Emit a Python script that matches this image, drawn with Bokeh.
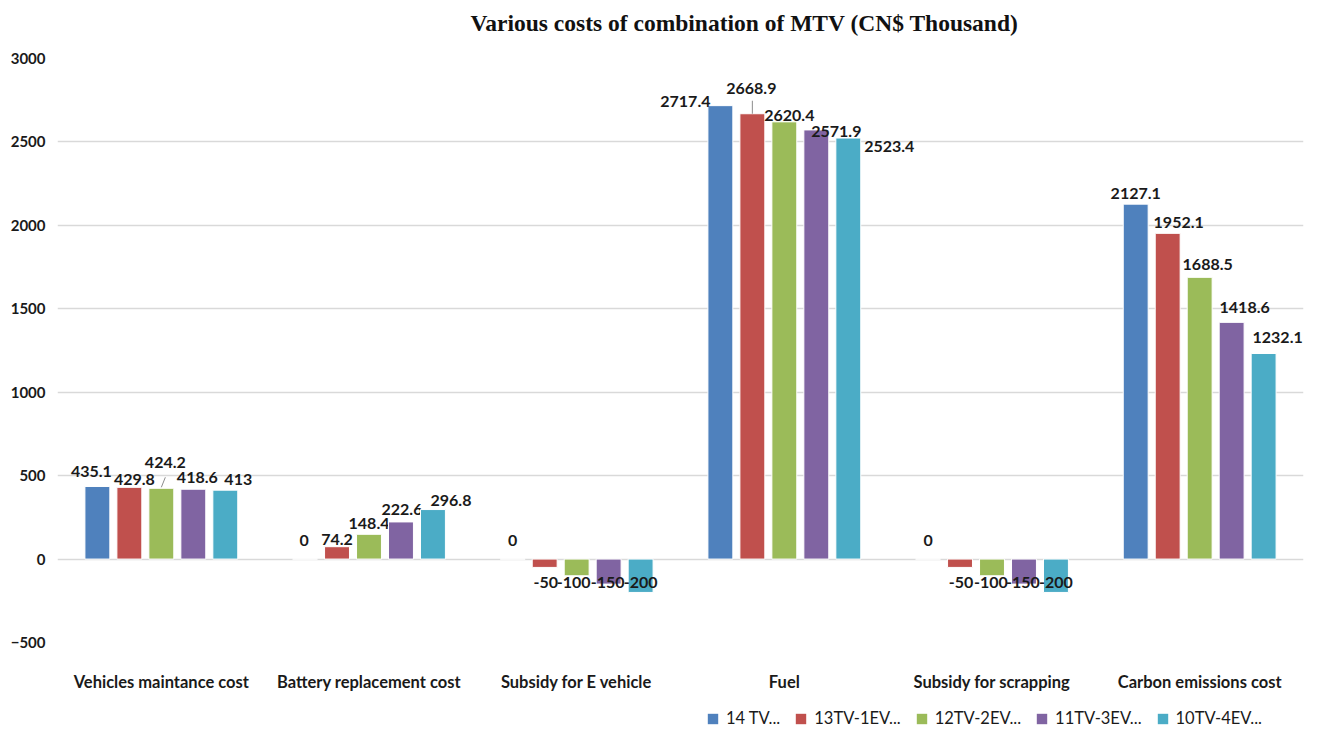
from bokeh.plotting import figure
from bokeh.layouts import column
from bokeh.models import (ColumnDataSource, FactorRange, Range1d, Legend, LegendItem,
                          FixedTicker, Label)
from bokeh.transform import dodge
from bokeh.core.properties import value
from bokeh.embed import file_html
from bokeh.resources import INLINE

categories = ["Vehicles maintance cost", "Battery replacement cost", "Subsidy for E vehicle",
              "Fuel", "Subsidy for scrapping", "Carbon emissions cost"]
series_names = ["14 TV...", "13TV-1EV...", "12TV-2EV...", "11TV-3EV...", "10TV-4EV..."]
s14tv = [435.1, 0, 0, 2717.4, 0, 2127.1]
s13tv1ev = [429.8, 74.2, -50, 2668.9, -50, 1952.1]
s12tv2ev = [424.2, 148.4, -100, 2620.4, -100, 1688.5]
s11tv3ev = [418.6, 222.6, -150, 2571.9, -150, 1418.6]
s10tv4ev = [413, 296.8, -200, 2523.4, -200, 1232.1]
series_values = [s14tv, s13tv1ev, s12tv2ev, s11tv3ev, s10tv4ev]
y_ticks = [-500, 0, 500, 1000, 1500, 2000, 2500, 3000]
title_text = "Various costs of combination of MTV (CN$ Thousand)"

colors = ["#4F81BD", "#C0504D", "#9BBB59", "#8064A2", "#4BACC6"]

# label pixel nudges (Excel-like manual placement), per series then per category
label_dx = [[-6, -1, 0, -35, 0, 0], [5, 0, 1, -1, 1, 11], [4, 0, -3, 5, -1, 8],
            [4, 1, -1, 20, -1, 13], [13, 18, 0, 41, 0, 14]]
label_dy = [[-15, -19, -19, -4, -19, -11], [-8, -7, 23, -25, 23, -11], [-26, -11, 23, -6, 23, -13],
            [-12, -12, 23, 2, 23, -15], [-11, -9, 23, 8, 23, -16]]

W = 1325
BL, BR = 57, 22
FRAME_H = 584
Y0, Y1 = -500, 3000
CAT_PX = (W - BL - BR) / len(categories)

# title strip
pt = figure(width=W, height=48, x_range=Range1d(0, 1), y_range=Range1d(0, 1),
            output_backend="svg", toolbar_location=None, x_axis_type=None, y_axis_type=None,
            min_border_left=BL, min_border_right=BR, min_border_top=0, min_border_bottom=0)
pt.outline_line_color = None
pt.xgrid.grid_line_color = None
pt.ygrid.grid_line_color = None
pt.add_layout(Label(x=413, y=26, x_units="screen", y_units="screen", text=title_text,
                    text_align="left", text_baseline="middle",
                    text_font="Liberation Serif", text_font_size="23.5px",
                    text_font_style="bold", text_color="#111111"))

# main chart
p = figure(x_range=FactorRange(*categories, range_padding=0), y_range=Range1d(Y0, Y1),
           width=W, height=10 + FRAME_H + 64, output_backend="svg", toolbar_location=None,
           min_border_left=BL, min_border_right=BR, min_border_top=10, min_border_bottom=64)
p.outline_line_color = None
p.background_fill_color = "white"
p.border_fill_color = "white"

offsets = [-0.308, -0.154, 0.0, 0.154, 0.308]
for i, (name, vals) in enumerate(zip(series_names, series_values)):
    lab_y = []
    for v in vals:
        lab_y.append(v if v > 0 else 0)
    src = ColumnDataSource(dict(cat=categories, top=vals, laby=lab_y,
                                txt=[("%g" % v) for v in vals],
                                dx=label_dx[i], dy=label_dy[i]))
    p.vbar(x=dodge("cat", offsets[i], range=p.x_range), top="top", bottom=0, width=0.12,
           source=src, fill_color=colors[i], line_color="white", line_width=1)
    p.text(x=dodge("cat", offsets[i], range=p.x_range), y="laby", text="txt", source=src,
           x_offset="dx", y_offset="dy", text_align="center", text_baseline="middle",
           text_font=value("Lato"), text_font_style="bold", text_font_size="16px",
           text_color="#1a1a1a")

# leader lines for the two labels that were lifted away from their bars
px_per_unit = FRAME_H / (Y1 - Y0)
leaders = [(0, 2, 1, 11, 4), (3, 1, 0, 13, 0)]  # (category, series, px start, px end, px lean)
lx0, lx1, ly0, ly1 = [], [], [], []
for ci, si, a, b, lean in leaders:
    v = series_values[si][ci]
    xc = ci + 0.5 + offsets[si]
    lx0.append(xc)
    lx1.append(xc + lean / CAT_PX)
    ly0.append(v + a / px_per_unit)
    ly1.append(v + b / px_per_unit)
p.segment(x0=lx0, y0=ly0, x1=lx1, y1=ly1, line_color="#8c8c8c", line_width=1)

p.yaxis.ticker = FixedTicker(ticks=y_ticks)
p.yaxis.axis_line_color = None
p.yaxis.major_tick_line_color = None
p.yaxis.major_tick_out = 0
p.yaxis.major_tick_in = 0
p.yaxis.minor_tick_line_color = None
p.yaxis.major_label_text_font = "Lato"
p.yaxis.major_label_text_font_style = "bold"
p.yaxis.major_label_text_font_size = "15px"
p.yaxis.major_label_text_color = "#1a1a1a"
p.yaxis.major_label_standoff = 12

p.xaxis.axis_line_color = None
p.xaxis.major_tick_line_color = None
p.xaxis.minor_tick_line_color = None
p.xaxis.major_label_text_font = "Lato"
p.xaxis.major_label_text_font_style = "bold"
p.xaxis.major_label_text_font_size = "16.5px"
p.xaxis.major_label_text_color = "#1a1a1a"
p.xaxis.major_label_standoff = 23

p.xgrid.grid_line_color = None
p.ygrid.grid_line_color = "#d9d9d9"
p.ygrid.grid_line_width = 1.5

# legend strip below the chart
p2 = figure(width=W, height=25, x_range=Range1d(0, 1), y_range=Range1d(0, 1),
            output_backend="svg", toolbar_location=None, x_axis_type=None, y_axis_type=None,
            min_border_left=BL, min_border_right=BR, min_border_top=0, min_border_bottom=0)
p2.outline_line_color = None
p2.xgrid.grid_line_color = None
p2.ygrid.grid_line_color = None
items = []
for name, c in zip(series_names, colors):
    r = p2.vbar(x=[0.5], top=[0], bottom=[0], width=0.1, fill_color=c, line_color=None)
    items.append(LegendItem(label=name, renderers=[r]))
legend = Legend(items=items, orientation="horizontal", location=(649, 3),
                label_text_font="Lato", label_text_font_size="16.5px", label_text_color="#1a1a1a",
                glyph_width=13, glyph_height=13, label_standoff=7, spacing=14,
                border_line_color=None, background_fill_alpha=0, padding=0, margin=0)
p2.add_layout(legend)

open("out.html", "w").write(file_html(column(pt, p, p2, spacing=0), INLINE))
